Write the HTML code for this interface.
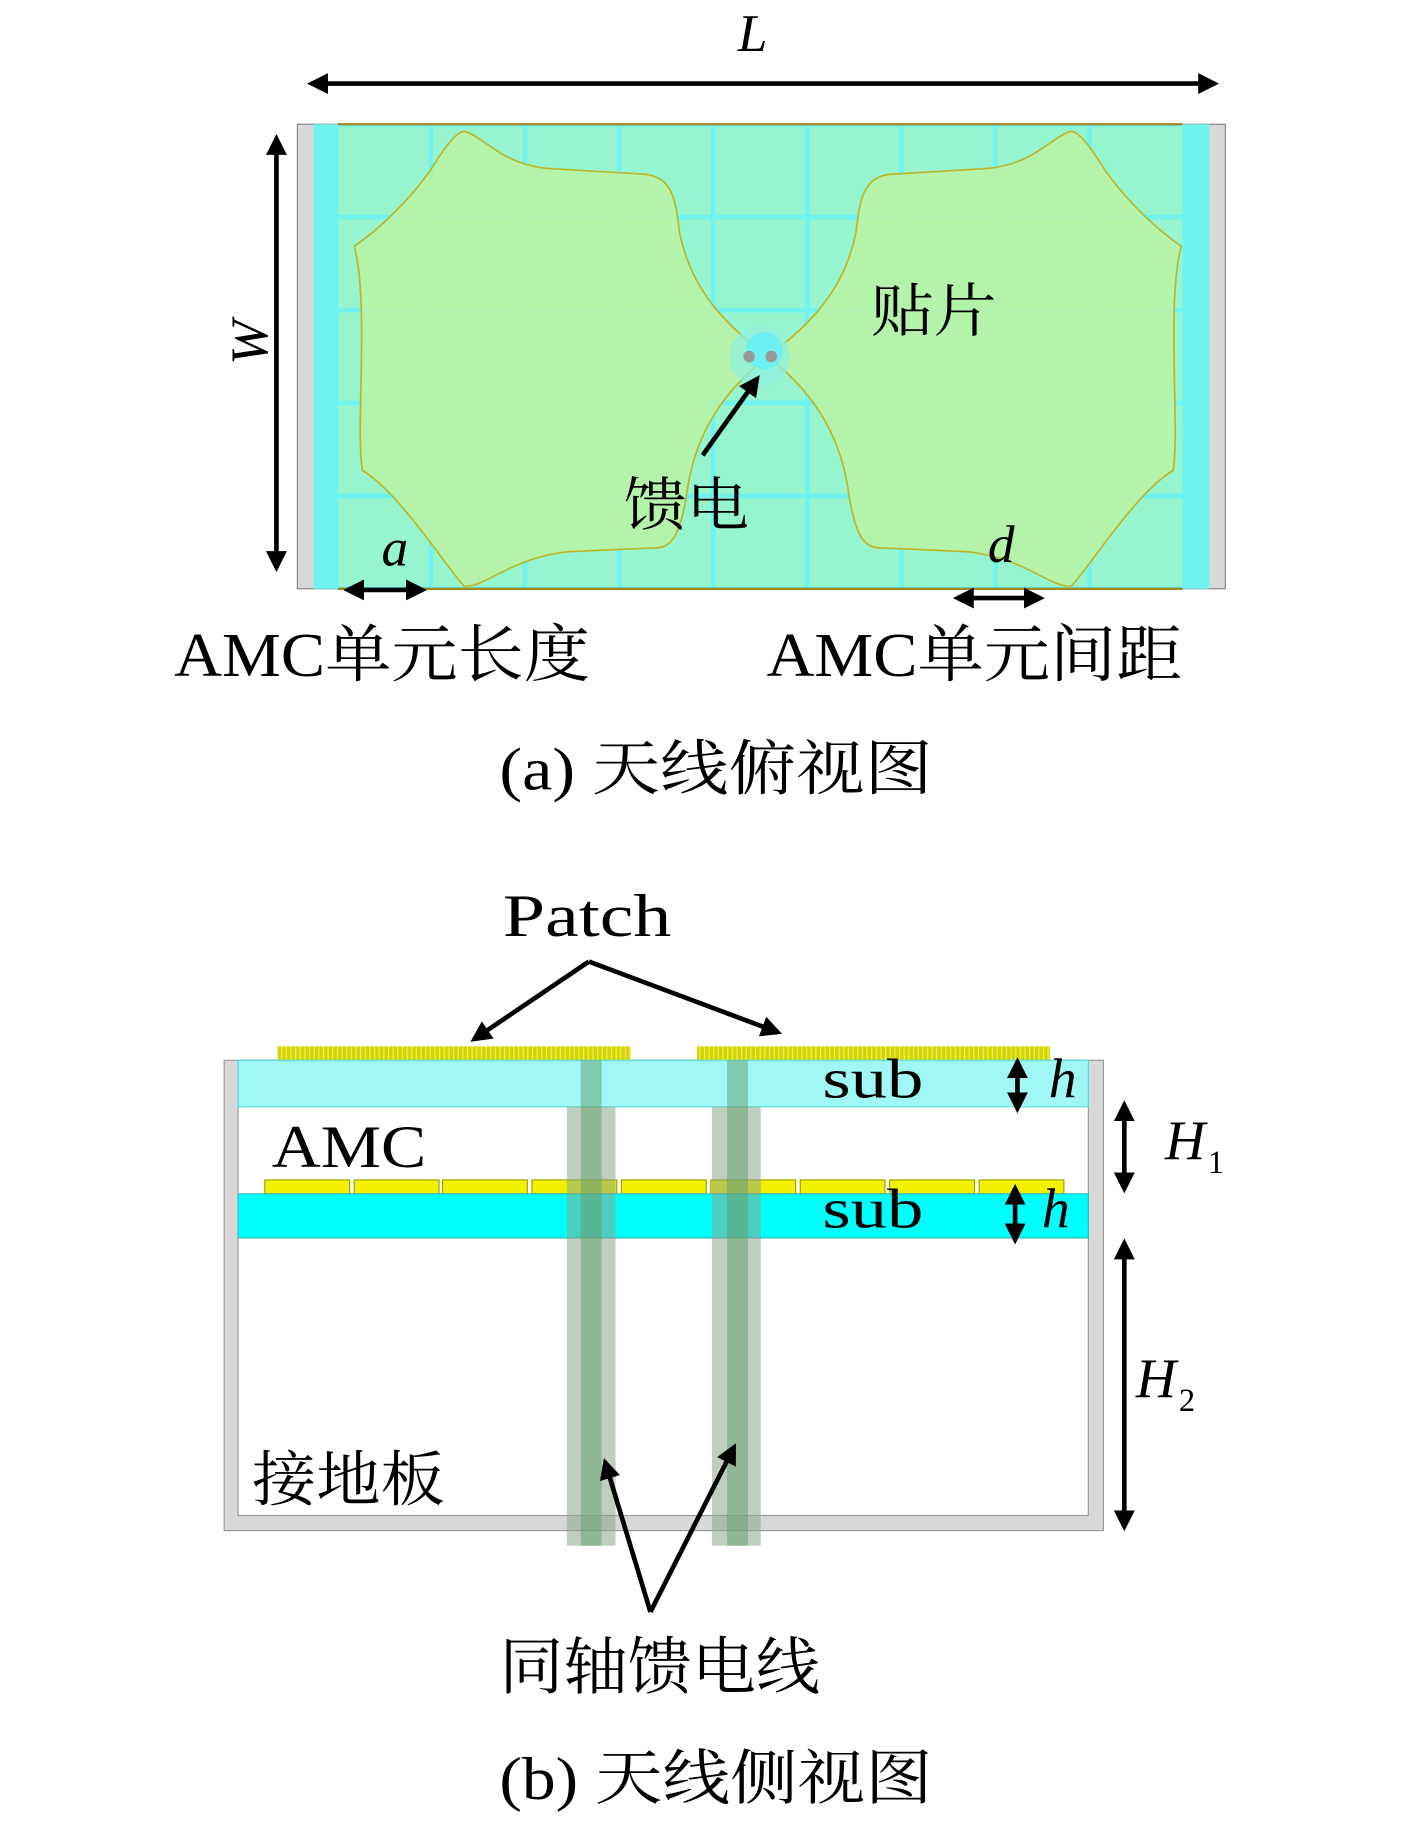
<!DOCTYPE html>
<html><head><meta charset="utf-8"><style>
html,body{margin:0;padding:0;background:#fff;}
svg{display:block;}
text{font-family:"Liberation Serif","Noto Serif CJK SC",serif;fill:#000;}
.cjk{font-family:"Liberation Serif","Noto Serif CJK SC",serif;}
.it{font-style:italic;}
</style></head><body>
<svg width="1417" height="1843" viewBox="0 0 1220 1587" preserveAspectRatio="none" xmlns="http://www.w3.org/2000/svg">
<defs>
<marker id="ah" viewBox="0 0 10 10" refX="8" refY="5" markerWidth="4.5" markerHeight="4.5" orient="auto-start-reverse"><path d="M0,0 L10,5 L0,10 z" fill="#000"/></marker>
<pattern id="hatch" width="4" height="12" patternUnits="userSpaceOnUse"><rect width="4" height="12" fill="#d4d400"/><rect x="2" width="1" height="12" fill="#eeee66"/></pattern>
</defs>

<!-- top view -->
<text x="648" y="44" font-size="46" class="it" text-anchor="middle">L</text>
<line x1="268" y1="72" x2="1046" y2="72" stroke="#000" stroke-width="4" marker-start="url(#ah)" marker-end="url(#ah)"/>

<rect x="256" y="107" width="799" height="400" fill="#d8d8d8" stroke="#888" stroke-width="1"/>
<rect x="270" y="107" width="771" height="400" fill="#6ef3f0"/>
<g fill="#96f5cf">
<g id="row">
<rect x="291" y="109" width="78" height="76"/><rect x="373" y="109" width="77" height="76"/><rect x="454" y="109" width="77" height="76"/><rect x="535" y="109" width="77" height="76"/><rect x="616" y="109" width="77" height="76"/><rect x="697" y="109" width="77" height="76"/><rect x="778" y="109" width="77" height="76"/><rect x="859" y="109" width="77" height="76"/><rect x="940" y="109" width="78" height="76"/>
</g>
<use href="#row" y="80"/><use href="#row" y="160"/><use href="#row" y="240"/><use href="#row" y="320"/>
</g>
<line x1="291" y1="107" x2="1018" y2="107" stroke="#a08a20" stroke-width="2"/>
<line x1="291" y1="507" x2="1018" y2="507" stroke="#a08a20" stroke-width="2"/>

<g id="lp">
<path d="M400,113 C420,120 430,140 470,145 L555,150 C580,152 582,175 585,200 C595,250 625,280 661,307 C625,335 600,370 592,420 C585,470 575,472 560,472 L490,475 C440,480 420,505 400,505 C385,490 345,425 312,405 C306,370 318,260 305,212 C330,195 360,165 378,135 C388,120 395,113 400,113 Z" fill="#b8f3a6" fill-opacity="0.9" stroke="#b8b830" stroke-width="1.5"/>
</g>
<use href="#lp" transform="translate(1322,0) scale(-1,1)"/>
<circle cx="654" cy="307" r="26" fill="#8ef0e0" opacity="0.7"/>
<circle cx="658" cy="302" r="16" fill="#6ef0f0"/>
<circle cx="645" cy="307" r="5" fill="#999"/><circle cx="664" cy="307" r="5" fill="#999"/>

<text x="750" y="285" font-size="50" class="cjk" textLength="108" lengthAdjust="spacingAndGlyphs">贴片</text>
<text x="537" y="452" font-size="50" class="cjk" textLength="108" lengthAdjust="spacingAndGlyphs">馈电</text>
<line x1="605" y1="392" x2="652" y2="326" stroke="#000" stroke-width="4" marker-end="url(#ah)"/>

<text transform="translate(230,295) rotate(-90)" font-size="46" class="it" text-anchor="middle">W</text>
<line x1="238" y1="119" x2="238" y2="489" stroke="#000" stroke-width="4" marker-start="url(#ah)" marker-end="url(#ah)"/>

<text x="340" y="487" font-size="46" class="it" text-anchor="middle">a</text>
<line x1="299" y1="508" x2="364" y2="508" stroke="#000" stroke-width="4" marker-start="url(#ah)" marker-end="url(#ah)"/>
<text x="862" y="484" font-size="46" class="it" text-anchor="middle">d</text>
<line x1="824" y1="515" x2="896" y2="515" stroke="#000" stroke-width="4" marker-start="url(#ah)" marker-end="url(#ah)"/>

<text x="150" y="582" font-size="54" textLength="358" lengthAdjust="spacingAndGlyphs">AMC单元长度</text>
<text x="660" y="582" font-size="54" textLength="358" lengthAdjust="spacingAndGlyphs">AMC单元间距</text>
<text x="430" y="680" font-size="52" textLength="373" lengthAdjust="spacingAndGlyphs">(a) 天线俯视图</text>

<!-- side view -->
<text x="433" y="806" font-size="52" textLength="145" lengthAdjust="spacingAndGlyphs">Patch</text>
<line x1="507" y1="828" x2="408" y2="895" stroke="#000" stroke-width="4" marker-end="url(#ah)"/>
<line x1="507" y1="828" x2="670" y2="889" stroke="#000" stroke-width="4" marker-end="url(#ah)"/>

<rect x="193" y="913" width="757" height="405" fill="#d8d8d8" stroke="#999" stroke-width="1"/>
<rect x="205" y="913" width="732" height="392" fill="#fff" stroke="#999" stroke-width="1"/>
<rect x="239" y="901" width="304" height="12" fill="url(#hatch)"/>
<rect x="600" y="901" width="304" height="12" fill="url(#hatch)"/>
<rect x="205" y="913" width="732" height="40" fill="#a0f7f6" stroke="#5dd" stroke-width="1"/>
<g fill="#f2f200" stroke="#a0a000" stroke-width="1">
<rect x="228" y="1016" width="73" height="12"/><rect x="305" y="1016" width="73" height="12"/><rect x="381" y="1016" width="73" height="12"/><rect x="458" y="1016" width="73" height="12"/><rect x="535" y="1016" width="73" height="12"/><rect x="612" y="1016" width="73" height="12"/><rect x="689" y="1016" width="73" height="12"/><rect x="766" y="1016" width="73" height="12"/><rect x="843" y="1016" width="73" height="12"/>
</g>
<rect x="205" y="1028" width="732" height="38" fill="#00ffff" stroke="#3bb" stroke-width="1"/>
<g>
<rect x="488" y="953" width="42" height="378" fill="#8aa88a" opacity="0.55"/>
<rect x="500" y="913" width="18" height="418" fill="#5f9f6a" opacity="0.5"/>
<rect x="613" y="953" width="42" height="378" fill="#8aa88a" opacity="0.55"/>
<rect x="626" y="913" width="18" height="418" fill="#5f9f6a" opacity="0.5"/>
</g>

<text x="708" y="945" font-size="48" textLength="87" lengthAdjust="spacingAndGlyphs">sub</text>
<text x="708" y="1057" font-size="48" textLength="87" lengthAdjust="spacingAndGlyphs">sub</text>
<text x="915" y="945" font-size="48" class="it" text-anchor="middle">h</text>
<text x="909" y="1057" font-size="48" class="it" text-anchor="middle">h</text>
<line x1="876" y1="914" x2="876" y2="955" stroke="#000" stroke-width="4" marker-start="url(#ah)" marker-end="url(#ah)"/>
<line x1="874" y1="1023" x2="874" y2="1068" stroke="#000" stroke-width="4" marker-start="url(#ah)" marker-end="url(#ah)"/>
<text x="234" y="1005" font-size="52" textLength="133" lengthAdjust="spacingAndGlyphs">AMC</text>
<line x1="968" y1="951" x2="968" y2="1024" stroke="#000" stroke-width="4" marker-start="url(#ah)" marker-end="url(#ah)"/>
<text x="1003" y="998" font-size="48" class="it">H</text><text x="1040" y="1010" font-size="28">1</text>
<line x1="968" y1="1070" x2="968" y2="1315" stroke="#000" stroke-width="4" marker-start="url(#ah)" marker-end="url(#ah)"/>
<text x="978" y="1203" font-size="48" class="it">H</text><text x="1015" y="1215" font-size="28">2</text>
<text x="217" y="1292" font-size="52" textLength="166" lengthAdjust="spacingAndGlyphs">接地板</text>
<line x1="560" y1="1388" x2="521" y2="1259" stroke="#000" stroke-width="4" marker-end="url(#ah)"/>
<line x1="560" y1="1388" x2="632" y2="1246" stroke="#000" stroke-width="4" marker-end="url(#ah)"/>
<text x="430" y="1454" font-size="54" textLength="276" lengthAdjust="spacingAndGlyphs">同轴馈电线</text>
<text x="430" y="1549" font-size="52" textLength="373" lengthAdjust="spacingAndGlyphs">(b) 天线侧视图</text>
</svg>
</body></html>
